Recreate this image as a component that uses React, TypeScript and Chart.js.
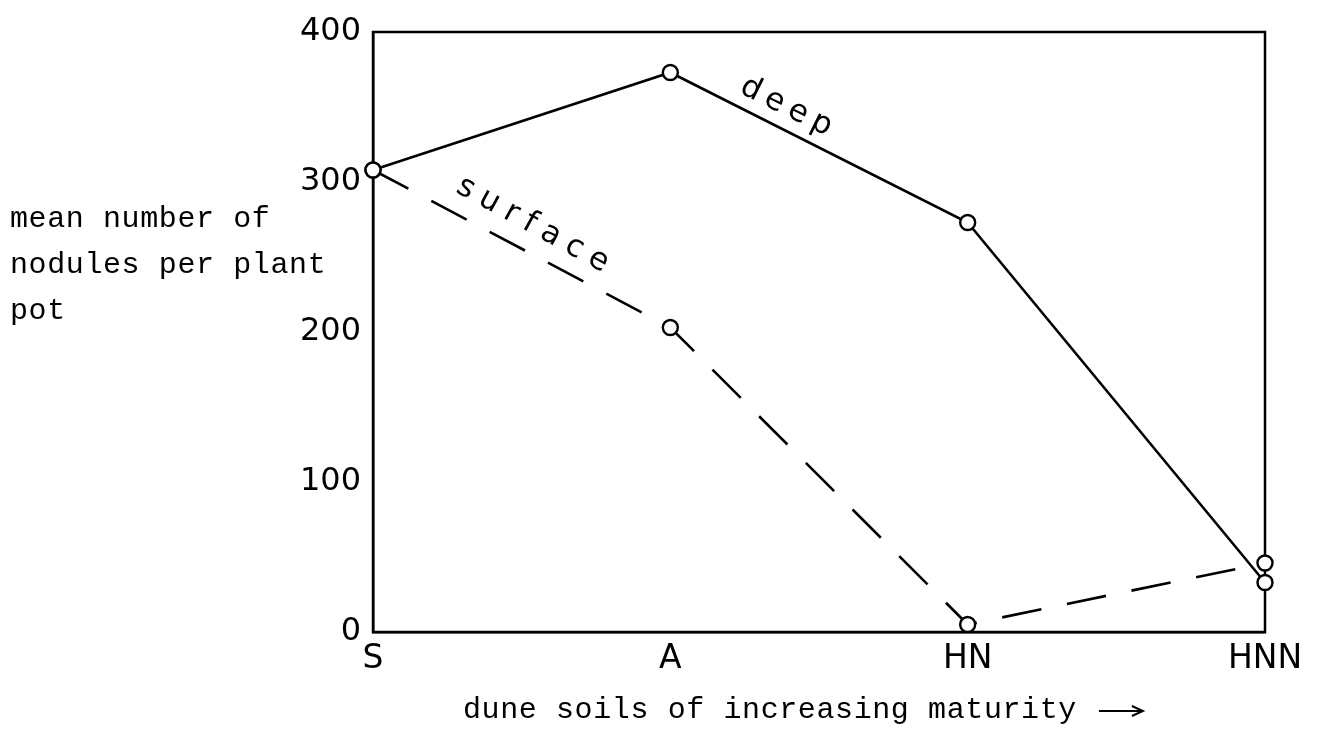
import React, { useEffect, useRef } from "react";
import { Chart, registerables } from "chart.js";

Chart.register(...registerables);

const categories = ["S", "A", "HN", "HNN"];
const deepValues = [308, 373, 273, 33];
const surfaceValues = [308, 203, 5, 46];
const yTicks = [0, 100, 200, 300, 400];
const yTitleLines = ["mean number of", "nodules per plant", "pot"];
const xTitle = "dune soils of increasing maturity";
const deepLabel = "deep";
const surfaceLabel = "surface";

const decorPlugin = {
  id: "decor",
  beforeDatasetsDraw(chart: any) {
    const { ctx, chartArea } = chart;
    const { left, top, right, bottom } = chartArea;
    ctx.save();
    ctx.strokeStyle = "#000";
    ctx.lineWidth = 2.5;
    ctx.strokeRect(left, top, right - left, bottom - top);
    ctx.restore();
  },
  afterDraw(chart: any) {
    const { ctx } = chart;
    const xs = chart.scales.x;
    const ys = chart.scales.y;
    ctx.save();
    ctx.fillStyle = "#000";
    ctx.font = '30px "Liberation Mono"';
    (ctx as any).letterSpacing = "0.6px";
    ctx.textAlign = "left";
    ctx.textBaseline = "alphabetic";
    yTitleLines.forEach((line, i) => {
      ctx.fillText(line, 10, 227 + i * 46);
    });
    ctx.fillText(xTitle, 463, 718);
    const tw = ctx.measureText(xTitle).width;
    const ax0 = 463 + tw + 22;
    const ax1 = ax0 + 44;
    ctx.strokeStyle = "#000";
    ctx.lineWidth = 2;
    ctx.beginPath();
    ctx.moveTo(ax0, 711);
    ctx.lineTo(ax1, 711);
    ctx.stroke();
    ctx.beginPath();
    ctx.moveTo(ax1 - 11, 706);
    ctx.lineTo(ax1, 711);
    ctx.lineTo(ax1 - 11, 716);
    ctx.stroke();

    (ctx as any).letterSpacing = "7px";
    ctx.font = '31px "DejaVu Sans"';
    ctx.textAlign = "center";
    ctx.textBaseline = "middle";
    const drawRot = (txt: string, cx: number, cy: number, ang: number) => {
      ctx.save();
      ctx.translate(cx, cy);
      ctx.rotate(ang);
      ctx.fillText(txt, 0, 0);
      ctx.restore();
    };
    drawRot(deepLabel, xs.getPixelForValue(1.4), ys.getPixelForValue(349), 0.46);
    (ctx as any).letterSpacing = "9px";
    drawRot(surfaceLabel, xs.getPixelForValue(0.55), ys.getPixelForValue(270), 0.5);
    ctx.restore();
  },
};

export default function App() {
  const ref = useRef<HTMLCanvasElement | null>(null);
  useEffect(() => {
    if (!ref.current) return;
    const chart = new Chart(ref.current, {
      type: "line",
      data: {
        labels: categories,
        datasets: [
          {
            label: "deep",
            data: deepValues,
            borderColor: "#000",
            borderWidth: 2.6,
            pointRadius: 7.5,
            pointBackgroundColor: "#fff",
            pointBorderColor: "#000",
            pointBorderWidth: 2.4,
            tension: 0,
          },
          {
            label: "surface",
            data: surfaceValues,
            borderColor: "#000",
            borderWidth: 2.6,
            borderDash: [40, 26],
            pointRadius: 7.5,
            pointBackgroundColor: "#fff",
            pointBorderColor: "#000",
            pointBorderWidth: 2.4,
            tension: 0,
          },
        ],
      },
      options: {
        responsive: false,
        animation: false,
        layout: { padding: { left: 273, right: 57, top: 32, bottom: 42 } },
        plugins: {
          legend: { display: false },
          tooltip: { enabled: false },
        },
        scales: {
          x: {
            offset: false,
            grid: { display: false, drawTicks: false },
            border: { display: true, color: "#000", width: 2.5 },
            ticks: {
              color: "#000",
              padding: 8,
              font: { family: "DejaVu Sans", size: 33 },
            },
            afterFit: (s: any) => {
              s.height = 60;
            },
          },
          y: {
            min: 0,
            max: 400,
            afterBuildTicks: (s: any) => {
              s.ticks = yTicks.map((v) => ({ value: v }));
            },
            grid: { display: false, drawTicks: false },
            border: { display: true, color: "#000", width: 2.5 },
            ticks: {
              color: "#000",
              padding: 12,
              font: { family: "DejaVu Sans", size: 32 },
            },
            afterFit: (s: any) => {
              s.width = 100;
            },
          },
        },
      },
      plugins: [decorPlugin],
    });
    return () => chart.destroy();
  }, []);
  return (
    <div style={{ position: "fixed", left: 0, top: 0, width: 1322, height: 734, background: "#fff" }}>
      <canvas ref={ref} width={1322} height={734} />
    </div>
  );
}
